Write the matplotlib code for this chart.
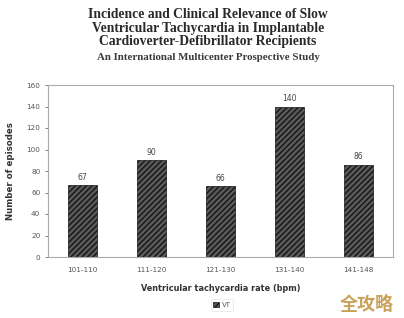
import matplotlib
matplotlib.use("Agg")
import matplotlib.pyplot as plt

categories = ["101-110", "111-120", "121-130", "131-140", "141-148"]
values = [67, 90, 66, 140, 86]
yticks = [0, 20, 40, 60, 80, 100, 120, 140, 160]

plt.rcParams['hatch.linewidth'] = 1.0
fig = plt.figure(figsize=(4.04, 3.18), dpi=100)
ax = fig.add_axes([48/404, 1-257/318, 345/404, 172/318])

x = range(len(categories))
bars = ax.bar(x, values, width=0.43, color="#5a5a5a", edgecolor="#151515",
              hatch="//////", linewidth=0.5, label="VT")
for xi, v in zip(x, values):
    ax.text(xi, v + 3, str(v), ha="center", va="bottom", fontsize=5.5, color="#444444")

ax.set_xlim(-0.5, len(categories) - 0.5)
ax.set_ylim(0, 160)
ax.set_yticks(yticks)
ax.set_xticks(list(x))
ax.set_xticklabels(categories)
ax.tick_params(axis="both", labelsize=5.2, colors="#555555", length=2, width=0.5)
ax.tick_params(axis="x", length=0, pad=7)
for s in ax.spines.values():
    s.set_color("#aaaaaa")
    s.set_linewidth(0.8)

ax.set_ylabel("Number of episodes", fontsize=6.2, fontweight="bold", color="#333333", labelpad=8)
ax.set_xlabel("Ventricular tachycardia rate (bpm)", fontsize=5.9, fontweight="bold", color="#333333", labelpad=8)

leg = fig.legend(handles=[bars], labels=["VT"], loc="center", bbox_to_anchor=(222/404, 1-305/318),
                 fontsize=5, frameon=True, handlelength=0.8, handleheight=0.8, borderpad=0.4,
                 handletextpad=0.4, labelcolor="#555555")
leg.get_frame().set_edgecolor("#dddddd")
leg.get_frame().set_linewidth(0.5)

title_lines = ["Incidence and Clinical Relevance of Slow",
               "Ventricular Tachycardia in Implantable",
               "Cardioverter-Defibrillator Recipients"]
for i, t in enumerate(title_lines):
    fig.text(208/404, 1 - (15 + 13.5*i)/318, t, ha="center", va="center",
             fontsize=9.8, fontweight="bold", family="Liberation Serif", color="#2a2a2a")
fig.text(208/404, 1 - 57/318, "An International Multicenter Prospective Study", ha="center", va="center",
         fontsize=7.8, fontweight="bold", family="Liberation Serif", color="#3a3a3a")

fig.text(367/404, 1 - 304/318, "全攻略", ha="center", va="center", fontsize=13,
         family=["Noto Sans CJK SC", "DejaVu Sans"], color="#c9a25a", fontweight="bold")

fig.savefig("out.png", dpi=100)
